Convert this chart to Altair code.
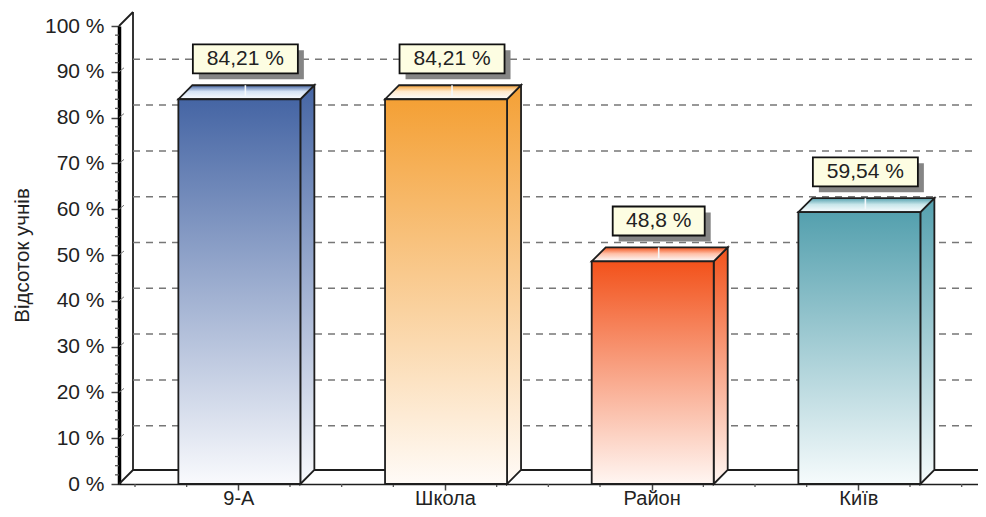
import altair as alt
import pandas as pd

categories = ["9-А", "Школа", "Район", "Київ"]
values = [84.21, 84.21, 48.8, 59.54]
labels = ["84,21 %", "84,21 %", "48,8 %", "59,54 %"]
top_colors = ["#4565a4", "#f4a035", "#f2521b", "#54a0ae"]
bottom_colors = ["#f9fafd", "#fffbf7", "#fff6f2", "#f6fbfc"]
lid_colors = ["#d5e3f5", "#ffe9cc", "#ffc0a8", "#c8e6ea"]
y_ticks = [0, 10, 20, 30, 40, 50, 60, 70, 80, 90, 100]
grid_values = [10, 20, 30, 40, 50, 60, 70, 80, 90]

PX_X = 1 / 206.67
PX_Y = 100 / 458
DX = 14 * PX_X
DY = 14 * PX_Y
GRID_DY = 12.5 * PX_Y
HALF = 61 * PX_X
XMIN = -16 * PX_X
XMAX = 843 * PX_X
FONT = "Liberation Sans"
INK = "#1e1e1e"
SW = 1.8

label_map = "{" + ",".join(f"'{i}':'{c}'" for i, c in enumerate(categories)) + "}"
x_scale = alt.Scale(domain=[XMIN, XMAX], nice=False, zero=False)
y_scale = alt.Scale(domain=[0, 100], nice=False, zero=False)
x_axis = alt.Axis(
    values=[i + 0.5 for i in range(4)], title=None, grid=False,
    labelExpr=f"{label_map}[floor(datum.value)]",
    labelFont=FONT, labelFontSize=20, labelColor="#222", labelPadding=-2,
    tickSize=6, tickColor="#444", tickWidth=1.5,
    domainColor=INK, domainWidth=1.6)
y_axis = alt.Axis(
    values=y_ticks, title="Відсоток учнів", grid=False,
    labelExpr="datum.value + ' %'",
    labelFont=FONT, labelFontSize=21, labelColor="#222", labelPadding=7,
    titleFont=FONT, titleFontSize=20.5, titleFontWeight="normal", titleColor="#222",
    titlePadding=12,
    tickSize=8, tickColor="#444", tickWidth=1.5,
    domainColor="#000", domainWidth=3.5)
X = alt.X("x:Q", scale=x_scale, axis=x_axis)
Y = alt.Y("y:Q", scale=y_scale, axis=y_axis)


def grad(stops):
    return {
        "gradient": "linear", "x1": 0, "x2": 0, "y1": 0, "y2": 1,
        "stops": [{"offset": o, "color": c} for o, c in stops],
    }


def seg(rows, **mark):
    df = pd.DataFrame(rows, columns=["x", "x2", "y", "y2"])
    return alt.Chart(df).mark_rule(**mark).encode(x=X, x2="x2:Q", y=Y, y2="y2:Q")


layers = []

# wall and floor frame
layers.append(seg([
    [XMIN + DX, XMIN + DX, DY, 100 + DY],
    [XMIN, XMIN + DX, 100, 100 + DY],
    [XMIN, XMIN + DX, 0, DY],
    [XMIN + DX, XMAX + DX, DY, DY],
], color=INK, strokeWidth=SW))

# dashed back-wall grid
layers.append(alt.Chart(pd.DataFrame({"y": [v + GRID_DY for v in grid_values]})).transform_calculate(
    x=str(XMIN + DX), x2=str(XMAX + DX)
).mark_rule(color="#777", strokeWidth=1.5, strokeDash=[7, 6]).encode(x=X, x2="x2:Q", y=Y))

# minor ticks
x_minor = [i * 0.25 for i in range(0, 17) if i % 4 != 2]
layers.append(seg([[v, v, 0, -3 * PX_Y] for v in x_minor], color="#555", strokeWidth=1.3))
y_minor = [v for v in range(0, 101, 2) if v % 10]
layers.append(seg([[XMIN, XMIN - 4 * PX_X, v, v] for v in y_minor], color="#555", strokeWidth=1.3))
layers.append(seg([[XMIN, XMIN + 5 * PX_X, v, v + 4 * PX_Y] for v in y_ticks[1:-1]],
                  color="#777", strokeWidth=1))

for i, (v, lab, top, bottom, lid) in enumerate(zip(values, labels, top_colors, bottom_colors, lid_colors)):
    c = i + 0.505
    l, r = c - HALF, c + HALF
    # side face
    side = pd.DataFrame({"x": [r, r + DX], "y": [0, DY], "y2": [v - 0.2, v - 0.2 + DY]})
    layers.append(alt.Chart(side).mark_area(
        fill=grad([(0, top), (1, bottom)]), stroke=INK, strokeWidth=SW, interpolate="linear"
    ).encode(x=X, y=Y, y2="y2:Q"))
    # top face
    t = v - 0.2
    lid_df = pd.DataFrame({
        "x": [l, l + DX, r, r + DX],
        "y": [t, t, t, t + DY],
        "y2": [t, t + DY, t + DY, t + DY],
    })
    layers.append(alt.Chart(lid_df).mark_area(
        fill=grad([(0, top), (0.45, lid), (1, "#fbfdff")]), stroke=INK, strokeWidth=SW, interpolate="linear"
    ).encode(x=X, y=Y, y2="y2:Q"))
    # front face
    front = pd.DataFrame({"x": [l], "x2": [r], "y": [0], "y2": [t]})
    layers.append(alt.Chart(front).mark_rect(
        fill=grad([(0, top), (1, bottom)]), stroke=INK, strokeWidth=SW
    ).encode(x=X, x2="x2:Q", y=Y, y2="y2:Q"))
    # leader
    bx = c + 6 * PX_X
    layers.append(seg([[bx, bx, t + DY, t + 3 * PX_Y]], color="#f4f8fb", strokeWidth=1.6))
    # label box with shadow
    half = (len(lab) * 13 + 14) / 2 * PX_X
    b0 = v + DY + 11 * PX_Y
    b1 = b0 + 29 * PX_Y
    shadow = pd.DataFrame({"x": [bx - half + 6 * PX_X], "x2": [bx + half + 6 * PX_X],
                           "y": [b0 - 6 * PX_Y], "y2": [b1 - 6 * PX_Y]})
    layers.append(alt.Chart(shadow).mark_rect(fill="#858585").encode(x=X, x2="x2:Q", y=Y, y2="y2:Q"))
    box = pd.DataFrame({"x": [bx - half], "x2": [bx + half], "y": [b0], "y2": [b1], "t": [lab],
                        "m": [(b0 + b1) / 2], "c": [bx]})
    layers.append(alt.Chart(box).mark_rect(fill="#fdfde2", stroke="#111", strokeWidth=SW).encode(
        x=X, x2="x2:Q", y=Y, y2="y2:Q"))
    layers.append(alt.Chart(box).mark_text(font=FONT, fontSize=21, color="#222", align="center", baseline="middle").encode(
        x=alt.X("c:Q", scale=x_scale, axis=x_axis), y=alt.Y("m:Q", scale=y_scale, axis=y_axis), text="t:N"))

chart = alt.layer(*layers).properties(
    width=859, height=458,
    padding={"left": 111, "top": 18, "right": 0, "bottom": 25},
    autosize=alt.AutoSizeParams(type="none"),
    background="white",
).configure_view(stroke=None)

chart.save("out.html", embed_options={"renderer": "svg", "actions": False})
